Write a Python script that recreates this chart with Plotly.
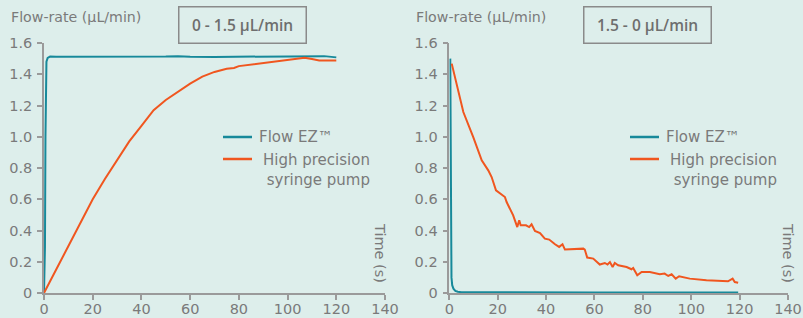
import plotly.graph_objects as go

# ---------------- data ----------------
# Left panel: step 0 -> 1.5 uL/min
t_up_ez = [0, 0.4, 0.6, 0.8, 1.0, 1.5, 2.5, 5, 10, 20, 30, 40, 50, 55, 60, 70, 80, 90, 100, 110, 115, 120]
v_up_ez = [0, 0.3, 1.0, 1.4, 1.48, 1.505, 1.513, 1.512, 1.512, 1.511, 1.513, 1.511, 1.514, 1.516, 1.512,
           1.511, 1.512, 1.511, 1.513, 1.515, 1.516, 1.508]

t_up_sp = [0, 5, 10, 15, 20, 25, 30, 35, 40, 45, 50, 55, 60, 65, 70, 75, 78, 80, 85, 90, 95, 100, 105, 107,
           110, 113, 120]
v_up_sp = [0, 0.15, 0.30, 0.45, 0.60, 0.73, 0.85, 0.97, 1.07, 1.17, 1.235, 1.29, 1.34, 1.385, 1.415, 1.435,
           1.44, 1.452, 1.462, 1.472, 1.482, 1.49, 1.502, 1.506, 1.497, 1.488, 1.488]

# Right panel: step 1.5 -> 0 uL/min
t_dn_ez = [0.4, 0.5, 0.6, 0.75, 0.9, 1.2, 1.7, 2.5, 3.5, 5, 20, 60, 100, 119.4]
v_dn_ez = [1.5, 1.0, 0.5, 0.2, 0.1, 0.05, 0.028, 0.014, 0.008, 0.005, 0.004, 0.004, 0.004, 0.004]

t_dn_sp = [1.0, 5.8, 9.9, 13.4, 16.1, 17.5, 19.3, 23.0, 23.7, 25.1, 26.4, 28.1, 28.9, 29.5, 31.7, 33.0,
           34.0, 35.4, 37.5, 39.5, 41.3, 43.7, 45.4, 46.8, 47.8, 55.4, 56.0, 57.0, 59.5, 62.2, 64.3, 65.4,
           66.4, 67.5, 68.4, 69.8, 73.3, 75.3, 76.0, 77.7, 79.5, 82.9, 87.0, 89.0, 90.5, 91.9, 93.6, 95.0,
           99.4, 106.3, 115.2, 117.1, 118.0, 119.4]
v_dn_sp = [1.468, 1.158, 0.998, 0.849, 0.785, 0.742, 0.657, 0.614, 0.582, 0.54, 0.497, 0.422, 0.465, 0.433,
           0.433, 0.422, 0.44, 0.397, 0.384, 0.348, 0.342, 0.312, 0.295, 0.312, 0.278, 0.284, 0.278, 0.227,
           0.22, 0.182, 0.192, 0.182, 0.198, 0.166, 0.192, 0.177, 0.166, 0.152, 0.16, 0.113, 0.134, 0.134,
           0.12, 0.124, 0.109, 0.12, 0.092, 0.107, 0.092, 0.081, 0.075, 0.092, 0.07, 0.066]

x_ticks = [0, 20, 40, 60, 80, 100, 120, 140]
y_ticks = [0, 0.2, 0.4, 0.6, 0.8, 1.0, 1.2, 1.4, 1.6]
y_tick_text = ["0", "0.2", "0.4", "0.6", "0.8", "1.0", "1.2", "1.4", "1.6"]

series_names = ["Flow EZ™", "High precision<br>syringe pump"]
panel_titles = ["0 - 1.5 µL/min", "1.5 - 0 µL/min"]
y_title = "Flow-rate (µL/min)"
x_title = "Time (s)"

# ---------------- style ----------------
BG = "#ddeeeb"
TEAL = "#17899a"
ORANGE = "#f0561f"
TXT = "#7a7a7a"
AX = "#9a9a9a"
FONT = "DejaVu Sans"
TFONT = "Open Sans"

W, H = 803, 318
ML, MR, MT, MB = 44, 15, 43, 25
PW, PH = W - ML - MR, H - MT - MB


def px(x):
    return (x - ML) / PW


def py(y):
    return (H - MB - y) / PH


fig = go.Figure()
fig.add_trace(go.Scatter(x=t_up_ez, y=v_up_ez, mode="lines", line=dict(color=TEAL, width=2),
                         xaxis="x", yaxis="y", showlegend=False))
fig.add_trace(go.Scatter(x=t_up_sp, y=v_up_sp, mode="lines", line=dict(color=ORANGE, width=2),
                         xaxis="x", yaxis="y", showlegend=False))
fig.add_trace(go.Scatter(x=t_dn_ez, y=v_dn_ez, mode="lines", line=dict(color=TEAL, width=2),
                         xaxis="x2", yaxis="y2", showlegend=False))
fig.add_trace(go.Scatter(x=t_dn_sp, y=v_dn_sp, mode="lines", line=dict(color=ORANGE, width=2),
                         xaxis="x2", yaxis="y2", showlegend=False))

xcommon = dict(range=[0, 140], tickvals=x_ticks, showgrid=False, zeroline=False, showline=True,
               linecolor=AX, linewidth=1.5, ticks="outside", ticklen=5, tickcolor=AX, tickwidth=1.5,
               automargin=False, ticklabelstandoff=-3,
               tickfont=dict(family=FONT, size=14.5, color=TXT))
ycommon = dict(range=[0, 1.6], tickvals=y_ticks, ticktext=y_tick_text, showgrid=False, zeroline=False,
               showline=True, linecolor=AX, linewidth=1.5, ticks="outside", ticklen=5, tickcolor=AX,
               tickwidth=1.5, automargin=False, ticklabelstandoff=2,
               tickfont=dict(family=FONT, size=14.5, color=TXT))

left_end = px(385)
right_start = px(449.3)

fig.update_layout(
    width=W, height=H,
    margin=dict(l=ML, r=MR, t=MT, b=MB, autoexpand=False),
    paper_bgcolor=BG, plot_bgcolor=BG,
    xaxis=dict(domain=[0, left_end], anchor="y", **xcommon),
    yaxis=dict(domain=[0, 1], anchor="x", **ycommon),
    xaxis2=dict(domain=[right_start, 1], anchor="y2", **xcommon),
    yaxis2=dict(domain=[0, 1], anchor="x2", **ycommon),
    showlegend=False,
)

annotations = []
shapes = []
for i, off in enumerate([0, 405]):
    # y-axis title
    annotations.append(dict(x=px(9 + off), y=py(17), xref="paper", yref="paper", text=y_title,
                            showarrow=False, xanchor="left", yanchor="middle",
                            font=dict(family=FONT, size=14.2, color=TXT)))
    # boxed panel title
    annotations.append(dict(x=px(242 + off), y=py(25), xref="paper", yref="paper", text=panel_titles[i],
                            showarrow=False, xanchor="center", yanchor="middle", width=122, height=31,
                            bordercolor="#8a8a8a", borderwidth=1.5, borderpad=2,
                            font=dict(family=TFONT, size=15.5, color="#6e6e6e", weight=600)))
    # x-axis title (rotated)
    annotations.append(dict(x=px(380 + off + (3 if i else 0)), y=py(253), xref="paper", yref="paper",
                            text=x_title, textangle=90, showarrow=False, xanchor="center",
                            yanchor="middle", font=dict(family=FONT, size=14.5, color=TXT)))
    # legend
    lx0 = 223 + off + (2 if i else 0)
    shapes.append(dict(type="line", xref="paper", yref="paper", x0=px(lx0), x1=px(lx0 + 29),
                       y0=py(137), y1=py(137), line=dict(color=TEAL, width=2.5)))
    shapes.append(dict(type="line", xref="paper", yref="paper", x0=px(lx0), x1=px(lx0 + 29),
                       y0=py(159), y1=py(159), line=dict(color=ORANGE, width=2.5)))
    annotations.append(dict(x=px(lx0 + 34), y=py(137), xref="paper", yref="paper", text=series_names[0],
                            showarrow=False, xanchor="left", yanchor="middle",
                            font=dict(family=FONT, size=15, color=TXT)))
    annotations.append(dict(x=px(lx0 + 149), y=py(170), xref="paper", yref="paper", text=series_names[1],
                            showarrow=False, xanchor="right", yanchor="middle", align="right",
                            font=dict(family=FONT, size=15, color=TXT)))

fig.update_layout(annotations=annotations, shapes=shapes)
fig.write_html("out.html", config={"displayModeBar": False},
               post_script="document.body.style.margin='0';document.body.style.padding='0';")
